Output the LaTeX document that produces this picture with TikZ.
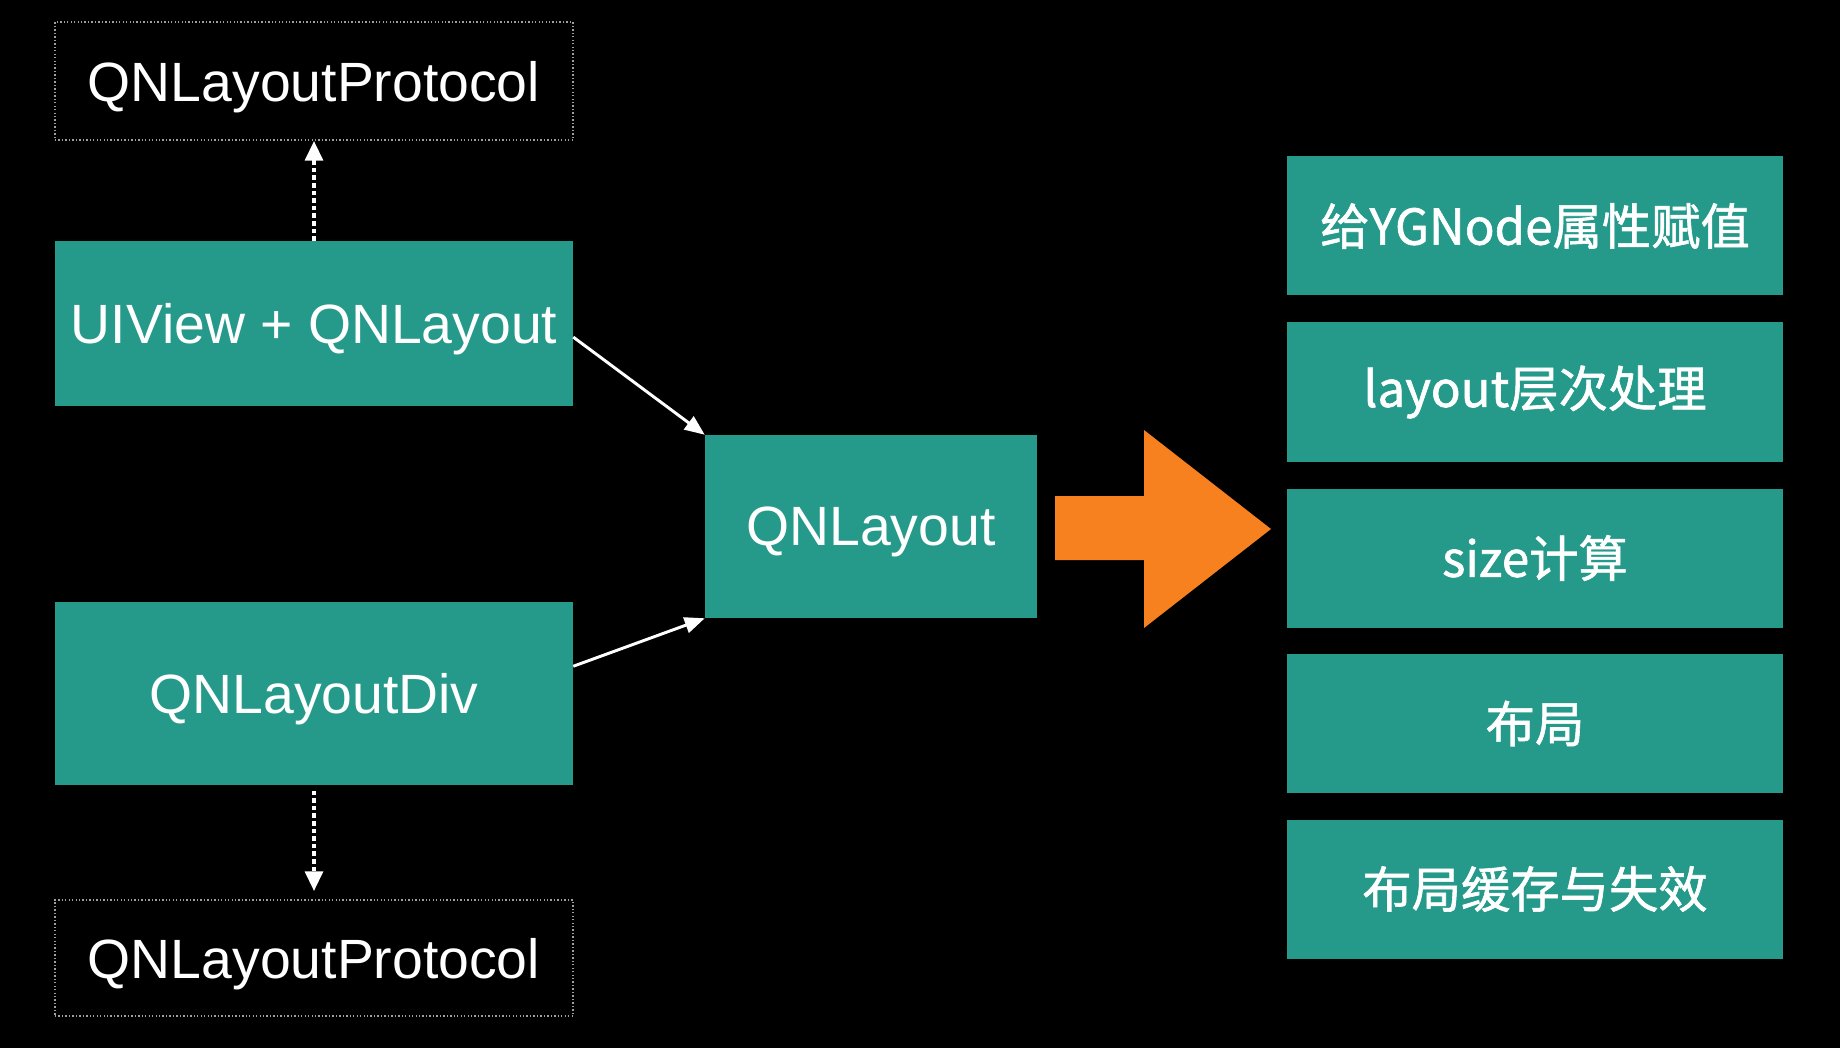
\documentclass[tikz,border=0pt]{standalone}
\usepackage{fontspec}
\setmainfont{Liberation Sans}
\newfontfamily\cjk[FakeBold=1.2]{Noto Sans CJK SC}
\usepackage{tikz}
\usetikzlibrary{arrows.meta}
\usepackage{xcolor}
\definecolor{boxteal}{RGB}{37,154,139}
\definecolor{bigorange}{RGB}{247,128,31}

\begin{document}
\begin{tikzpicture}[x=0.75pt,y=0.75pt,yscale=-1,xscale=1,
  box/.style={fill=boxteal, text=white, inner sep=0pt, text depth=0pt, font=\fontsize{41.5}{48}\selectfont},
  protobox/.style={draw=gray!75, line width=1pt, dash pattern={on 1pt off 1.6pt}, text=white, inner sep=0pt, text depth=0pt, font=\fontsize{41.5}{48}\selectfont},
  stepbox/.style={box, text depth=, minimum width=372pt, minimum height=104.25pt, font=\cjk\fontsize{37}{44}\selectfont},
  link/.style={draw=white, line width=2.2pt, -{Triangle[length=15pt,width=12pt]}},
  dotlink/.style={draw=white, line width=3.6pt, dash pattern={on 3.4pt off 2.3pt}, -{Triangle[length=15pt,width=13pt]}}]
%set diagram size 1840 x 1048
\fill[black] (0,0) rectangle (1840,1048);
\useasboundingbox (0,0) rectangle (1840,1048);

%Shape: Rectangle [protocol top]
\node[protobox, minimum width=388.5pt, minimum height=88.5pt] (ptop) at (314,81) {QNLayoutProtocol};
%Shape: Rectangle [UIView]
\node[box, minimum width=388.5pt, minimum height=123.75pt] (ui) at (314,323.5) {UIView + QNLayout};
%Shape: Rectangle [div]
\node[box, minimum width=388.5pt, minimum height=137.25pt] (div) at (314,693.5) {QNLayoutDiv};
%Shape: Rectangle [protocol bottom]
\node[protobox, minimum width=388.5pt, minimum height=87pt] (pbot) at (314,958) {QNLayoutProtocol};
%Shape: Rectangle [layout]
\node[box, minimum width=249pt, minimum height=137.25pt] (lay) at (871,526.5) {QNLayout};

%Shape: Right Arrow
\fill[bigorange] (1055,496) -- (1144,496) -- (1144,430) -- (1271,529) -- (1144,628) -- (1144,560) -- (1055,560) -- cycle;

%Shape: Rectangles [steps]
\foreach \y/\name/\txt in {226/s1/给YGNode属性赋值, 392/s2/layout层次处理, 558/s3/size计算, 723.5/s4/布局, 889/s5/布局缓存与失效}
  \node[stepbox] (\name) at (1535,\y) {\txt};

%Straight Lines
\draw[dotlink] (ui.north) -- (ptop.south);
\draw[dotlink, shorten <=4pt, shorten >=6pt] (div.south) -- (pbot.north);
\draw[link] (ui.-3.4) -- (lay.north west);
\draw[link] (div.6.3) -- (lay.south west);

\end{tikzpicture}
\end{document}
